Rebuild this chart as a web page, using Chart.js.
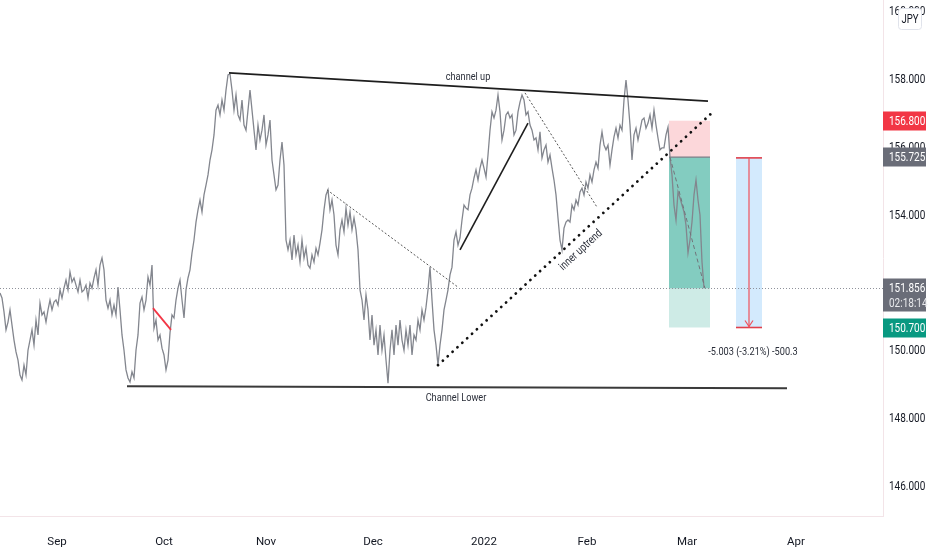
<!DOCTYPE html>
<html>
<head>
<meta charset="utf-8">
<script src="https://cdn.jsdelivr.net/npm/chart.js@4.4.1/dist/chart.umd.min.js"></script>
<style>
  html, body { margin: 0; padding: 0; background: #fff; }
  #wrap { width: 932px; height: 550px; }
</style>
</head>
<body>
<div id="wrap"><canvas id="chart" width="932" height="550"></canvas></div>
<script>
// Closing prices, one value per bar (bars are evenly spaced, ~10h apart)
const closes = [
  151.72, 151.57, 151.16, 150.63, 150.86, 151.22, 150.77, 150.33, 149.98, 149.74,
  149.30, 149.15, 149.59, 149.30, 150.03, 150.33, 150.63, 150.18, 150.92, 150.48,
  151.42, 151.07, 151.16, 150.86, 151.22, 151.51, 151.22, 151.45, 151.51, 151.36,
  151.81, 151.57, 151.86, 152.10, 151.81, 152.34, 152.04, 152.16, 151.95, 151.75,
  152.10, 151.75, 151.81, 151.95, 151.57, 152.01, 151.86, 152.16, 152.40, 151.95,
  152.54, 152.75, 152.40, 151.51, 151.27, 151.51, 151.07, 151.36, 151.07, 151.89,
  151.22, 150.48, 150.03, 149.45, 149.21, 149.09, 149.39, 149.21, 150.03, 150.48,
  151.42, 151.60, 151.22, 151.51, 152.19, 151.95, 152.54, 150.68, 150.92, 150.33,
  150.48, 150.09, 149.89, 149.45, 149.74, 150.54, 151.07, 150.98, 151.51, 151.86,
  152.10, 151.51, 150.98, 151.81, 152.16, 152.40, 152.90, 153.28, 153.81, 154.17,
  154.46, 154.11, 154.61, 154.90, 155.20, 155.64, 155.94, 156.38, 157.11, 157.26,
  156.97, 157.41, 157.11, 157.70, 158.15, 158.18, 157.70, 157.11, 157.56, 156.97,
  156.82, 157.41, 156.67, 156.52, 157.11, 157.70, 157.11, 156.52, 155.94, 156.67,
  156.23, 156.52, 156.97, 156.08, 156.38, 156.82, 155.64, 155.20, 154.76, 154.90,
  155.64, 156.17, 155.49, 153.28, 152.99, 153.28, 152.69, 153.43, 152.84, 153.13,
  152.63, 153.28, 152.75, 153.04, 152.54, 152.45, 152.84, 152.63, 153.04, 152.84,
  153.19, 153.58, 154.17, 154.61, 154.76, 154.17, 154.46, 154.02, 153.13, 152.84,
  153.58, 153.87, 153.52, 154.22, 153.72, 154.11, 153.58, 153.93, 153.58, 152.99,
  151.81, 151.51, 150.92, 151.66, 151.22, 150.33, 151.07, 150.18, 150.63, 149.89,
  150.77, 150.03, 150.48, 149.74, 149.06, 150.03, 150.63, 149.89, 150.77, 150.18,
  150.92, 150.33, 150.03, 150.63, 150.18, 150.77, 149.89, 150.48, 150.33, 150.92,
  150.63, 151.22, 150.92, 151.30, 151.81, 152.48, 151.51, 150.63, 150.18, 149.59,
  150.18, 150.63, 151.22, 151.51, 151.81, 152.25, 152.48, 153.28, 153.52, 153.13,
  153.34, 153.87, 154.31, 154.22, 154.17, 154.61, 154.81, 155.11, 155.35, 155.05,
  155.40, 155.64, 155.40, 155.14, 155.79, 156.52, 157.06, 156.88, 157.11, 157.56,
  157.06, 156.23, 156.52, 156.97, 157.06, 156.88, 156.97, 156.38, 156.52, 157.06,
  157.35, 157.56, 157.41, 156.97, 157.06, 156.67, 156.52, 156.23, 156.29, 155.94,
  156.47, 155.70, 155.94, 156.08, 155.58, 155.79, 155.40, 155.05, 154.61, 153.93,
  153.28, 152.99, 153.63, 153.81, 153.87, 153.81, 154.31, 154.17, 154.46, 154.31,
  154.70, 154.81, 154.61, 154.99, 154.81, 155.20, 154.99, 155.35, 155.58, 155.40,
  156.08, 156.47, 156.08, 155.94, 156.08, 155.49, 155.94, 156.32, 156.58, 156.29,
  156.67, 156.52, 157.41, 158.00, 157.41, 156.67, 155.64, 156.38, 156.58, 156.23,
  156.52, 156.82, 156.88, 156.58, 156.73, 156.97, 156.58, 157.11, 156.67, 156.29,
  155.94, 156.00, 156.00, 156.38, 156.61, 155.73, 155.20, 154.31, 153.87, 154.70,
  154.52, 154.31, 154.11, 153.72, 152.90, 153.28, 153.81, 154.61, 155.05, 154.46,
  154.02, 152.63, 151.86
];

// Time axis: month starts, in bar units
const monthTickBars = [28.5, 82, 133, 186.5, 242, 293.5, 343.5, 398];
const monthLabels = ['Sep', 'Oct', 'Nov', 'Dec', '2022', 'Feb', 'Mar', 'Apr'];
const priceTicks = [146, 148, 150, 154, 156, 158, 160];

// Drawings: [bar, price] end points
const channelUp = [[114.5, 158.21], [354, 157.38]];
const channelLower = [[63.5, 148.97], [393.5, 148.91]];
const innerUptrend = [[219, 149.59], [356.5, 157.06]];
const novDownTrend = [[163.5, 154.76], [229, 151.89]];
const janDownTrend = [[262.5, 157.62], [298.5, 154.25]];
const decRally = [[230, 152.99], [264, 156.73]];
const octPullback = [[76.5, 151.27], [85.5, 150.63]];

// Short position tool and price-range measure
const positionBars = [334.5, 355];
const entryPrice = 155.725;
const stopPrice = 156.8;
const targetPrice = 150.7;
const lastPrice = 151.856;
const lastBar = 352.5;
const countdown = '02:18:14';
const measureBars = [368, 381];
const measurePrices = [155.703, 150.7];
const measureText = '-5.003 (-3.21%) -500.3';

const notes = [
  { text: 'channel up', bar: 234, price: 158.09 },
  { text: 'Channel Lower', bar: 228, price: 148.62 },
  { text: measureText, bar: 376.5, price: 149.98 }
];
const trendNote = { text: 'inner uptrend', bar: 290.5, price: 152.98 };

const FONT = 'Roboto, "Liberation Sans", sans-serif';
const NARROW = 0.8;

function narrowText(ctx, text, x, y, align, size, color) {
  ctx.save();
  ctx.font = size + 'px ' + FONT;
  ctx.fillStyle = color;
  ctx.textAlign = align;
  ctx.textBaseline = 'middle';
  ctx.translate(x, y);
  ctx.scale(NARROW, 1);
  ctx.fillText(text, 0, 0);
  ctx.restore();
}

function line(chart, pts, color, width, dash, cap) {
  const { ctx, scales: { x, y } } = chart;
  ctx.save();
  ctx.beginPath();
  ctx.strokeStyle = color;
  ctx.lineWidth = width;
  ctx.lineCap = cap || 'butt';
  ctx.setLineDash(dash || []);
  ctx.moveTo(x.getPixelForValue(pts[0][0]), y.getPixelForValue(pts[0][1]));
  ctx.lineTo(x.getPixelForValue(pts[1][0]), y.getPixelForValue(pts[1][1]));
  ctx.stroke();
  ctx.restore();
}

function rect(chart, b0, b1, p0, p1, fill) {
  const { ctx, scales: { x, y } } = chart;
  const x0 = x.getPixelForValue(b0), x1 = x.getPixelForValue(b1);
  const y0 = y.getPixelForValue(p0), y1 = y.getPixelForValue(p1);
  ctx.fillStyle = fill;
  ctx.fillRect(x0, Math.min(y0, y1), x1 - x0, Math.abs(y1 - y0));
}

function axisTag(chart, price, text, fill, sub) {
  const { ctx, chartArea, scales: { y } } = chart;
  const yc = Math.round(y.getPixelForValue(price));
  const h = sub ? 33 : 19;
  ctx.fillStyle = fill;
  ctx.fillRect(chartArea.right, yc - 9.5, 43, h);
  narrowText(ctx, text, chartArea.right + 6, yc + 0.5, 'left', 12.5, '#fff');
  if (sub) narrowText(ctx, sub, chartArea.right + 6, yc + 15.5, 'left', 12.5, '#e8e9ec');
}

const boxes = {
  id: 'boxes',
  beforeDatasetsDraw(chart) {
    const { ctx, chartArea, scales: { x, y } } = chart;
    ctx.save();
    rect(chart, positionBars[0], positionBars[1], entryPrice, stopPrice, 'rgba(242,54,69,0.2)');
    rect(chart, positionBars[0], positionBars[1], entryPrice, lastPrice, 'rgba(8,153,129,0.5)');
    rect(chart, positionBars[0], positionBars[1], lastPrice, targetPrice, 'rgba(8,153,129,0.2)');
    rect(chart, measureBars[0], measureBars[1], measurePrices[0], measurePrices[1], 'rgba(33,150,243,0.2)');
    // last price dotted line
    ctx.beginPath();
    ctx.strokeStyle = '#8f929b';
    ctx.lineWidth = 1;
    ctx.setLineDash([1, 2]);
    const yl = Math.round(y.getPixelForValue(lastPrice)) + 0.5;
    ctx.moveTo(chartArea.left, yl);
    ctx.lineTo(chartArea.right, yl);
    ctx.stroke();
    ctx.restore();
    line(chart, [[positionBars[0], entryPrice], [positionBars[1], entryPrice]], '#7b7e86', 1.2);
  }
};

const drawings = {
  id: 'drawings',
  afterDatasetsDraw(chart) {
    const { ctx, scales: { x, y } } = chart;
    line(chart, [[positionBars[0] + 0.5, entryPrice], [lastBar, lastPrice]], '#707379', 1, [4, 3]);
    line(chart, channelUp, '#1e1e1e', 1.8);
    line(chart, channelLower, '#3a3a3a', 2);
    line(chart, decRally, '#1e1e1e', 1.6);
    line(chart, octPullback, '#f23645', 1.8);
    line(chart, novDownTrend, '#555', 1, [2, 2]);
    line(chart, janDownTrend, '#555', 1, [2, 2]);
    line(chart, innerUptrend, '#111', 2.8, [0.01, 6.6], 'round');

    // measure arrow
    const mx = (measureBars[0] + measureBars[1]) / 2;
    line(chart, [[measureBars[0], measurePrices[0]], [measureBars[1], measurePrices[0]]], '#e0404c', 1.6);
    line(chart, [[measureBars[0], measurePrices[1]], [measureBars[1], measurePrices[1]]], '#e0404c', 1.6);
    line(chart, [[mx, measurePrices[0]], [mx, measurePrices[1]]], '#f0505b', 1.2);
    const ax = x.getPixelForValue(mx), ay = y.getPixelForValue(measurePrices[1]);
    ctx.save();
    ctx.strokeStyle = '#f0505b';
    ctx.lineWidth = 1.2;
    ctx.beginPath();
    ctx.moveTo(ax - 4, ay - 7);
    ctx.lineTo(ax, ay - 1);
    ctx.lineTo(ax + 4, ay - 7);
    ctx.stroke();
    ctx.restore();

    notes.forEach(n => narrowText(ctx, n.text, x.getPixelForValue(n.bar), y.getPixelForValue(n.price), 'center', 11.5, '#2a2e39'));

    const ang = Math.atan2(
      y.getPixelForValue(innerUptrend[1][1]) - y.getPixelForValue(innerUptrend[0][1]),
      x.getPixelForValue(innerUptrend[1][0]) - x.getPixelForValue(innerUptrend[0][0]));
    ctx.save();
    ctx.translate(x.getPixelForValue(trendNote.bar), y.getPixelForValue(trendNote.price));
    ctx.rotate(ang);
    narrowText(ctx, trendNote.text, 0, 0, 'center', 11.5, '#2a2e39');
    ctx.restore();
  },
  afterDraw(chart) {
    const { ctx, chartArea, scales: { y } } = chart;
    ctx.save();
    priceTicks.forEach(v => narrowText(ctx, v.toFixed(3), chartArea.right + 6, y.getPixelForValue(v), 'left', 12.5, '#131722'));
    axisTag(chart, stopPrice, stopPrice.toFixed(3), '#f23645');
    axisTag(chart, entryPrice, entryPrice.toFixed(3), '#6a6d78');
    axisTag(chart, lastPrice, lastPrice.toFixed(3), '#6a6d78', countdown);
    axisTag(chart, targetPrice, targetPrice.toFixed(3), '#089981');
    // currency badge
    const bx = chartArea.right + 15, by = 8;
    ctx.fillStyle = '#fff';
    ctx.strokeStyle = '#e0e3eb';
    ctx.lineWidth = 1;
    ctx.beginPath();
    ctx.roundRect(bx + 0.5, by + 0.5, 23, 21, 3);
    ctx.fill();
    ctx.stroke();
    narrowText(ctx, 'JPY', bx + 12, by + 11.5, 'center', 12, '#131722');
    ctx.restore();
  }
};

new Chart(document.getElementById('chart'), {
  type: 'line',
  data: {
    datasets: [{
      data: closes.map((p, i) => ({ x: i, y: p })),
      borderColor: '#83868e',
      borderWidth: 1.3,
      pointRadius: 0,
      tension: 0
    }]
  },
  options: {
    responsive: false,
    animation: false,
    layout: { padding: 0 },
    plugins: { legend: { display: false }, tooltip: { enabled: false } },
    scales: {
      x: {
        type: 'linear',
        min: 0,
        max: 441.5,
        grid: { display: false },
        border: { color: '#f3e4e8' },
        afterBuildTicks: s => { s.ticks = monthTickBars.map(v => ({ value: v })); },
        afterFit: s => { s.height = 34; },
        ticks: {
          autoSkip: false,
          maxRotation: 0,
          padding: 11,
          color: '#131722',
          font: { family: FONT, size: 11.5 },
          callback: v => monthLabels[monthTickBars.indexOf(v)]
        }
      },
      y: {
        position: 'right',
        min: 145.14,
        max: 160.36,
        grid: { display: false },
        border: { color: '#f3e4e8' },
        afterBuildTicks: s => { s.ticks = priceTicks.map(v => ({ value: v })); },
        afterFit: s => { s.width = 49; },
        ticks: { display: false }
      }
    }
  },
  plugins: [boxes, drawings]
});
</script>
</body>
</html>
